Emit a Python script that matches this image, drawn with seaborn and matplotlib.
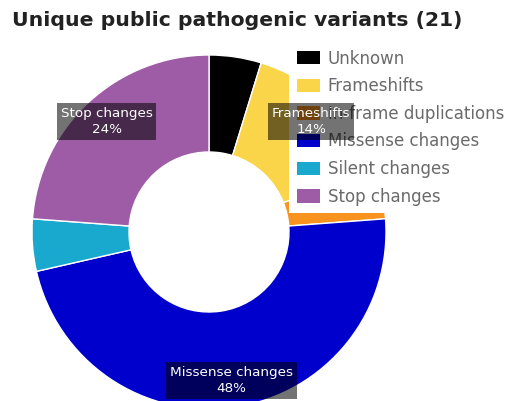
import matplotlib
matplotlib.use("Agg")
import matplotlib.pyplot as plt
import seaborn as sns
import numpy as np
from matplotlib.patches import Patch

# ---- data ----
categories = ["Unknown", "Frameshifts", "In-frame duplications",
              "Missense changes", "Silent changes", "Stop changes"]
counts = [1, 3, 1, 10, 1, 5]
colors = ["#000000", "#FAD54A", "#F7931E", "#0000CC", "#19A8CE", "#9E5BA6"]
title = "Unique public pathogenic variants (21)"

sns.set_theme(style="white")
plt.rcParams["font.family"] = ["DejaVu Sans"]

W, H = 513, 401
fig = plt.figure(figsize=(W / 100, H / 100), dpi=100)
ax = fig.add_axes([0, 0, 1, 1])

cx, cy, R, r_in = 209, H - 232, 177, 80
wedges, _ = ax.pie(counts, colors=colors, startangle=90, counterclock=False,
                   center=(cx, cy), radius=R,
                   wedgeprops=dict(width=R - r_in, edgecolor="white", linewidth=1))
ax.set_xlim(0, W)
ax.set_ylim(0, H)
ax.set_aspect("equal")
ax.axis("off")

total = sum(counts)
for w, cat, n in zip(wedges, categories, counts):
    pct = 100 * n / total
    if pct < 10:
        continue
    mid = np.deg2rad((w.theta1 + w.theta2) / 2)
    rl = 0.85 * R
    ax.text(cx + rl * np.cos(mid), cy + rl * np.sin(mid), f"{cat}\n{pct:.0f}%",
            ha="center", va="center", color="white", fontsize=9.7,
            linespacing=1.3, zorder=10,
            bbox=dict(boxstyle="square,pad=0.28", fc="black", ec="none", alpha=0.55))

handles = [Patch(facecolor=c, edgecolor="none", label=l) for c, l in zip(colors, categories)]
leg = ax.legend(handles=handles, loc="upper left", bbox_to_anchor=(289, H - 42),
                bbox_transform=ax.transData, frameon=True, facecolor="white",
                edgecolor="none", framealpha=1, fancybox=False, fontsize=12,
                labelcolor="#6a6a6a", handlelength=1.38, handleheight=0.85,
                handletextpad=0.5, labelspacing=0.58, borderpad=0.45, borderaxespad=0)
leg.set_zorder(5)

fig.text(12 / W, 1 - 20 / H, title, ha="left", va="center", fontweight="bold",
         fontsize=14.7, color="#222222")

fig.savefig("out.png", dpi=100)
